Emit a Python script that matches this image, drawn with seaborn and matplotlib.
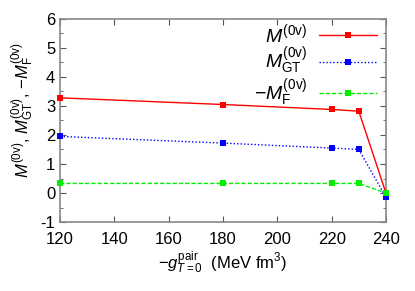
import matplotlib
matplotlib.use("Agg")
import matplotlib.pyplot as plt
import seaborn as sns
import pandas as pd
from matplotlib.ticker import MultipleLocator

g_pair = [120, 180, 220, 230, 240]
m_total = [3.28, 3.05, 2.88, 2.82, 0.00]
m_gt = [1.95, 1.72, 1.55, 1.50, -0.15]
m_f = [0.33, 0.33, 0.33, 0.33, 0.00]

labels = [r"$M^{\rm (0v)}$", r"$M^{\rm (0v)}_{\rm GT}$", r"$-M^{\rm (0v)}_{\rm F}$"]
colors = ["#ff0000", "#0000ff", "#00ee00"]
dashes = [(None, None), (1, 1.5), (3, 1.5)]

sns.set_style("ticks")
plt.rcParams["font.family"] = ["Liberation Sans", "DejaVu Sans"]
plt.rcParams["mathtext.fontset"] = "custom"
plt.rcParams["mathtext.rm"] = "Liberation Sans"
plt.rcParams["mathtext.it"] = "Liberation Sans:italic"
plt.rcParams["mathtext.bf"] = "Liberation Sans:bold"
plt.rcParams["axes.unicode_minus"] = False
plt.rcParams["text.color"] = "black"
plt.rcParams["axes.labelcolor"] = "black"
plt.rcParams["xtick.labelcolor"] = "black"
plt.rcParams["ytick.labelcolor"] = "black"

fig, ax = plt.subplots(figsize=(4.15, 2.91), dpi=100)

for vals, lab, col, d in zip([m_total, m_gt, m_f], labels, colors, dashes):
    df = pd.DataFrame({"g": g_pair, "m": vals})
    ls = "-" if d[0] is None else (0, d)
    sns.lineplot(data=df, x="g", y="m", ax=ax, color=col, linestyle=ls, lw=1.0,
                 marker="s", markersize=4.5, markeredgewidth=0, label=lab,
                 clip_on=False, zorder=3)

ax.set_xlim(120, 240)
ax.set_ylim(-1, 6)
ax.xaxis.set_major_locator(MultipleLocator(20))
ax.yaxis.set_major_locator(MultipleLocator(1))
ax.yaxis.set_minor_locator(MultipleLocator(0.5))
ax.tick_params(direction="in", which="both", top=True, right=True, labelsize=12, color="#555555")
ax.tick_params(which="major", length=4)
ax.tick_params(which="minor", length=2)
ax.tick_params(axis="x", pad=7)
for s in ax.spines.values():
    s.set_color("#888888")
    s.set_linewidth(1.2)

ax.set_xlabel(r"$-g^{\rm pair}_{T=0}$  (MeV fm$^3$)", fontsize=12, labelpad=2)
ax.set_ylabel(r"$M^{\rm (0v)}$, $M^{\rm (0v)}_{\rm GT}$, $-M^{\rm (0v)}_{\rm F}$", fontsize=12)
ax.yaxis.set_label_coords(-0.075, 0.55)

ax.legend(loc="upper right", bbox_to_anchor=(0.98, 0.995), frameon=False, markerfirst=False,
          fontsize=14, handlelength=3.0, handletextpad=0.6, labelspacing=0.02,
          borderaxespad=0.0, borderpad=0.1)

fig.subplots_adjust(left=0.145, right=0.93, top=0.935, bottom=0.237)
fig.savefig("out.png", dpi=100)
